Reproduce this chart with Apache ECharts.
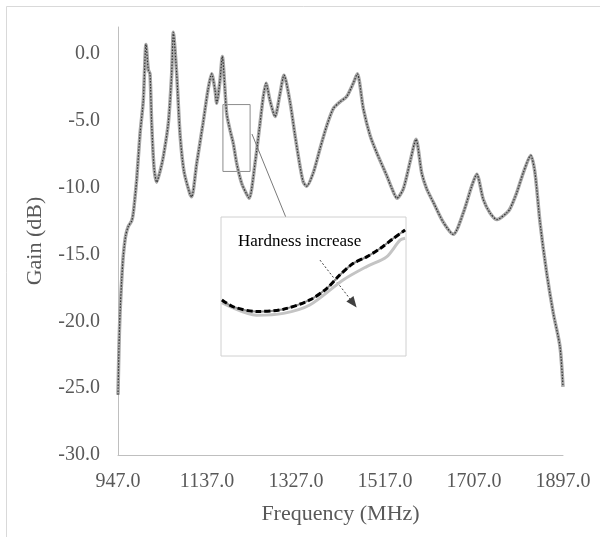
<!DOCTYPE html>
<html lang="en">
<head>
    <meta charset="UTF-8">
    <title>Gain vs Frequency</title>
    <script src="https://cdn.jsdelivr.net/npm/echarts@6/dist/echarts.min.js"></script>
    <style>
        html, body { margin: 0; padding: 0; background: #fff; }
        #container { width: 600px; height: 537px; }
    </style>
</head>
<body>
    <div id="container"></div>
    <script type="text/javascript">
        // main curve
        var freqMHz = [947, 949.1, 951.3, 954.9, 958.3, 963.4, 969.0, 976.2, 979.7, 986.9,
            994.0, 1001.0, 1006.8, 1011.7, 1015.3, 1018.9, 1023.9, 1029.6, 1036.7, 1043.7,
            1054.4, 1061.6, 1065.1, 1072.3, 1079.4, 1087.9, 1100.7, 1104.3, 1115.0, 1128.5,
            1139.1, 1147.0, 1154.1, 1157.7, 1164.7, 1169.7, 1175.4, 1179.1, 1186.1, 1193.1,
            1200.4, 1211.1, 1221.7, 1227.3, 1239.5, 1250.2, 1257.2, 1263.0, 1271.5, 1282.2,
            1292.8, 1301.4, 1314.2, 1324.9, 1335.5, 1342.6, 1349.8, 1363.9, 1378.2, 1392.5,
            1406.6, 1420.9, 1435.2, 1449.3, 1457.9, 1470.7, 1485.0, 1499.3, 1520.6, 1532.0,
            1542.6, 1556.1, 1570.4, 1583.2, 1595.3, 1606.0, 1620.1, 1641.5, 1662.8, 1684.1,
            1702.1, 1712.8, 1726.9, 1741.2, 1756.1, 1776.8, 1783.8, 1798.1, 1812.2, 1828.0,
            1837.2, 1847.9, 1862.2, 1876.3, 1890.6, 1897];
        var gainDb = [-25.5, -21.9, -19.4, -16.9, -15.1, -13.6, -12.9, -12.5, -11.9, -9.4,
            -6.0, -3.5, 0.7, -1.2, -1.5, -5.2, -8.5, -9.6, -8.8, -7.7,
            -5.2, -1.5, 1.6, -1.5, -6.0, -8.8, -10.5, -10.7, -8.2, -5.2,
            -2.7, -1.5, -2.7, -3.7, -2.0, -0.2, -2.7, -4.5, -5.7, -6.7,
            -8.2, -9.7, -10.5, -10.8, -8.2, -5.2, -3.2, -2.2, -3.5, -4.7,
            -3.0, -1.6, -3.6, -6.1, -8.4, -9.6, -9.9, -8.9, -7.1, -5.4,
            -4.1, -3.6, -3.2, -2.2, -1.5, -4.1, -6.1, -7.4, -9.1, -10.1,
            -10.8, -10.1, -8.1, -6.4, -8.9, -10.1, -11.1, -12.6, -13.5, -11.9,
            -9.9, -9.0, -10.9, -11.9, -12.4, -11.9, -11.6, -10.4, -8.9, -7.6,
            -8.9, -12.6, -16.4, -19.4, -21.9, -24.9];

        // zoomed-in detail shown in the inset
        var insetFreq = [1190.2, 1192.7, 1197.7, 1203.5, 1209.2, 1212.9, 1215.7, 1218.6, 1221.5, 1224.4, 1227.3, 1229.8];
        var insetHard = [-7.79, -7.94, -8.04, -7.99, -7.79, -7.54, -7.25, -7.0, -6.86, -6.68, -6.46, -6.28];
        var insetSoftFreq = [1190.2, 1197.7, 1203.5, 1209.2, 1216.4, 1221.5, 1225.8, 1228.7, 1229.8];
        var insetSoft = [-7.85, -8.12, -8.08, -7.90, -7.36, -7.07, -6.86, -6.50, -6.46];

        var xStart = 947;
        var xTickStep = 190;
        var yTicks = [-30, -25, -20, -15, -10, -5, 0];

        var zoomBox = [[1171, -3.8], [1229, -8.8]];
        var arrowFrom = [1211.4, -6.93];
        var arrowTo = [1218.6, -7.86];

        function pairs(xs, ys, off) {
            var out = [];
            for (var i = 0; i < xs.length; i++) {
                out.push([xs[i] - (off || 0), ys[i]]);
            }
            return out;
        }

        var mainData = pairs(freqMHz, gainDb, xStart);
        var serif = 'Liberation Serif';
        var axisGrey = '#595959';

        var chart = echarts.init(document.getElementById('container'), null, { renderer: 'canvas' });

        var option = {
            animation: false,
            backgroundColor: '#fff',
            grid: [
                { left: 118, right: 37, top: 27, bottom: 82, outerBoundsMode: 'none' },
                { left: 221, top: 217, width: 185, height: 139, show: true,
                  backgroundColor: '#fff', borderColor: '#d0d0d0', borderWidth: 1, z: 5, outerBoundsMode: 'none' }
            ],
            xAxis: [{
                type: 'value', gridIndex: 0,
                min: 0, max: 1897 - xStart, interval: xTickStep,
                name: 'Frequency (MHz)', nameLocation: 'middle', nameGap: 48,
                nameTextStyle: { fontFamily: serif, fontSize: 22, color: axisGrey },
                axisLine: { show: true, onZero: false, lineStyle: { color: '#bfbfbf', width: 1 } },
                axisTick: { show: false },
                splitLine: { show: false },
                axisLabel: {
                    fontFamily: serif, fontSize: 20, color: axisGrey, margin: 17,
                    formatter: function (v) { return (v + xStart).toFixed(1); }
                }
            }, {
                type: 'value', gridIndex: 1, min: 1190, max: 1230, show: false
            }],
            yAxis: [{
                type: 'value', gridIndex: 0,
                min: -30, max: 2, interval: 5,
                name: 'Gain (dB)', nameLocation: 'middle', nameGap: 72,
                nameTextStyle: { fontFamily: serif, fontSize: 22, color: axisGrey },
                axisLine: { show: true, onZero: false, lineStyle: { color: '#bfbfbf' } },
                axisTick: { show: false },
                splitLine: { show: false },
                axisLabel: {
                    fontFamily: serif, fontSize: 20, color: axisGrey, margin: 18,
                    showMaxLabel: false,
                    formatter: function (v) { return yTicks.indexOf(v) >= 0 ? v.toFixed(1) : ''; }
                }
            }, {
                type: 'value', gridIndex: 1, min: -9, max: -6, show: false
            }],
            series: [
                {
                    type: 'line', xAxisIndex: 0, yAxisIndex: 0, data: mainData,
                    showSymbol: false, smooth: 0.25,
                    lineStyle: { color: '#a8a8a8', width: 3.5 },
                    markArea: {
                        silent: true,
                        itemStyle: { color: 'rgba(0,0,0,0)', borderColor: '#8c8c8c', borderWidth: 1 },
                        data: [[
                            { coord: [zoomBox[0][0] - xStart, zoomBox[0][1]] },
                            { coord: [zoomBox[1][0] - xStart, zoomBox[1][1]] }
                        ]]
                    }
                },
                {
                    type: 'line', xAxisIndex: 0, yAxisIndex: 0, data: mainData,
                    showSymbol: false, smooth: 0.25,
                    lineStyle: { color: '#333', width: 1.2, type: [1.5, 1.5] }
                },
                {
                    type: 'line', xAxisIndex: 1, yAxisIndex: 1, z: 6,
                    data: pairs(insetSoftFreq, insetSoft),
                    showSymbol: false, smooth: 0.3,
                    lineStyle: { color: '#c4c4c4', width: 3 }
                },
                {
                    type: 'line', xAxisIndex: 1, yAxisIndex: 1, z: 6,
                    data: pairs(insetFreq, insetHard),
                    showSymbol: false, smooth: 0.3,
                    lineStyle: { color: '#8a8a8a', width: 2 }
                },
                {
                    type: 'line', xAxisIndex: 1, yAxisIndex: 1, z: 7,
                    data: pairs(insetFreq, insetHard),
                    showSymbol: false, smooth: 0.3,
                    lineStyle: { color: '#000', width: 3, type: [6, 3] },
                    markLine: {
                        silent: true,
                        symbol: ['none', 'triangle'], symbolSize: [9, 11],
                        label: { show: false },
                        lineStyle: { color: '#404040', width: 1, type: [2, 2] },
                        data: [[{ coord: arrowFrom }, { coord: arrowTo }]]
                    }
                }
            ]
        };

        chart.setOption(option);

        // connector and inset caption placed through the axes
        var p0 = chart.convertToPixel({ gridIndex: 0 }, [1233 - xStart, -6.0]);
        var p1 = chart.convertToPixel({ gridIndex: 1 }, [1204, -6]);
        var pt = chart.convertToPixel({ gridIndex: 1 }, [1207, -6.54]);
        chart.setOption({
            graphic: [
                { type: 'rect', shape: { x: 6.5, y: 6.5, width: 620, height: 560 },
                  style: { fill: 'none', stroke: '#d9d9d9', lineWidth: 1 }, z: -1, silent: true },
                { type: 'line', shape: { x1: p0[0], y1: p0[1], x2: p1[0], y2: p1[1] },
                  style: { stroke: '#7a7a7a', lineWidth: 1 }, z: 4, silent: true },
                { type: 'text', x: pt[0], y: pt[1], z: 10, silent: true,
                  style: { text: 'Hardness increase', font: '17px "Liberation Serif"', fill: '#000',
                           align: 'center', verticalAlign: 'middle' } }
            ]
        });

        window.addEventListener('resize', chart.resize);
    </script>
</body>
</html>
